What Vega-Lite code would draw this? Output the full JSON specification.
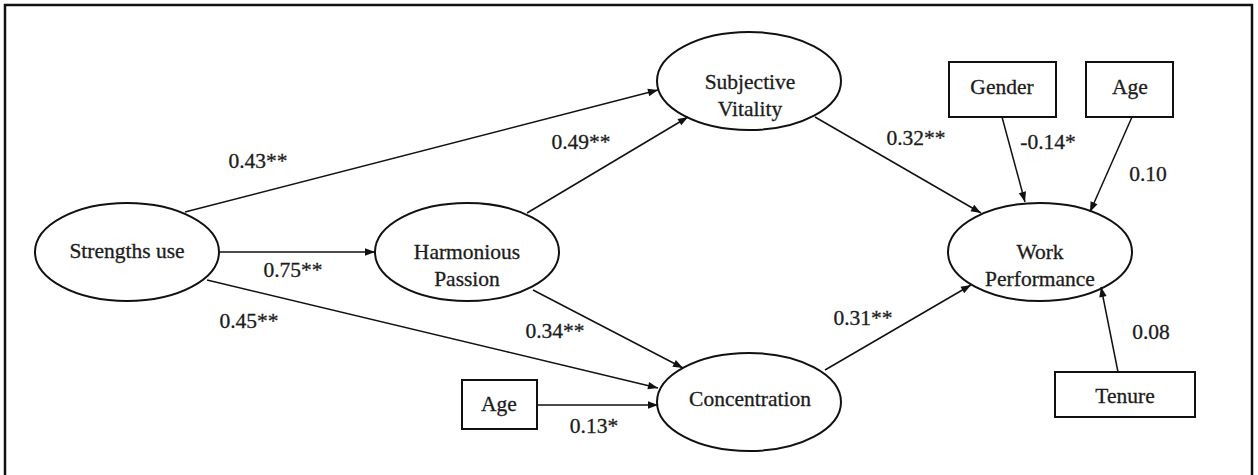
{
  "$schema": "https://vega.github.io/schema/vega-lite/v6.json",
  "width": 1258,
  "height": 475,
  "padding": 0,
  "autosize": {"type": "none"},
  "background": "white",
  "config": {"view": {"stroke": null}},
  "datasets": {
    "frame": [{"x1": 5, "y1": 5, "x2": 1252, "y2": 479}],
    "latent": [
      {"name": "Strengths use", "x": 127, "y": 252},
      {"name": "Harmonious Passion", "x": 467, "y": 252},
      {"name": "Subjective Vitality", "x": 749, "y": 81},
      {"name": "Concentration", "x": 749, "y": 402},
      {"name": "Work Performance", "x": 1040, "y": 252}
    ],
    "boxes": [
      {"name": "Age (concentration)", "x1": 462, "y1": 380, "x2": 537, "y2": 429},
      {"name": "Gender", "x1": 949, "y1": 62, "x2": 1056, "y2": 117},
      {"name": "Age (performance)", "x1": 1086, "y1": 62, "x2": 1173, "y2": 117},
      {"name": "Tenure", "x1": 1055, "y1": 372, "x2": 1195, "y2": 417}
    ],
    "paths": [
      {"from": "Strengths use", "to": "Subjective Vitality", "x1": 185, "y1": 212, "x2": 658, "y2": 90, "coef": "0.43**", "lx": 258, "ly": 162},
      {"from": "Strengths use", "to": "Harmonious Passion", "x1": 220, "y1": 252, "x2": 375, "y2": 252, "coef": "0.75**", "lx": 293, "ly": 271},
      {"from": "Strengths use", "to": "Concentration", "x1": 207, "y1": 280, "x2": 658, "y2": 388, "coef": "0.45**", "lx": 249, "ly": 322},
      {"from": "Harmonious Passion", "to": "Subjective Vitality", "x1": 527, "y1": 213, "x2": 688, "y2": 117, "coef": "0.49**", "lx": 581, "ly": 143},
      {"from": "Harmonious Passion", "to": "Concentration", "x1": 533, "y1": 290, "x2": 683, "y2": 368, "coef": "0.34**", "lx": 555, "ly": 332},
      {"from": "Age", "to": "Concentration", "x1": 537, "y1": 405, "x2": 658, "y2": 405, "coef": "0.13*", "lx": 594, "ly": 427},
      {"from": "Subjective Vitality", "to": "Work Performance", "x1": 815, "y1": 117, "x2": 981, "y2": 213, "coef": "0.32**", "lx": 916, "ly": 139},
      {"from": "Concentration", "to": "Work Performance", "x1": 825, "y1": 370, "x2": 971, "y2": 285, "coef": "0.31**", "lx": 863, "ly": 319},
      {"from": "Gender", "to": "Work Performance", "x1": 1002, "y1": 117, "x2": 1025, "y2": 202, "coef": "-0.14*", "lx": 1048, "ly": 143},
      {"from": "Age", "to": "Work Performance", "x1": 1132, "y1": 117, "x2": 1090, "y2": 212, "coef": "0.10", "lx": 1148, "ly": 175},
      {"from": "Tenure", "to": "Work Performance", "x1": 1118, "y1": 372, "x2": 1101, "y2": 287, "coef": "0.08", "lx": 1151, "ly": 333}
    ],
    "names": [
      {"t": "Strengths use", "x": 127, "y": 252},
      {"t": "Harmonious\nPassion", "x": 467, "y": 253},
      {"t": "Subjective\nVitality", "x": 750, "y": 83},
      {"t": "Concentration", "x": 750, "y": 400},
      {"t": "Work\nPerformance", "x": 1040, "y": 253},
      {"t": "Age", "x": 499, "y": 405},
      {"t": "Gender", "x": 1002, "y": 88},
      {"t": "Age", "x": 1130, "y": 88},
      {"t": "Tenure", "x": 1125, "y": 397}
    ]
  },
  "layer": [
    {
      "data": {"name": "frame"},
      "mark": {"type": "rect", "fill": null, "stroke": "#111111", "strokeWidth": 2.5},
      "encoding": {
        "x": {"field": "x1", "type": "quantitative", "scale": {"domain": [0, 1258], "nice": false, "zero": false}, "axis": null},
        "x2": {"field": "x2"},
        "y": {"field": "y1", "type": "quantitative", "scale": {"domain": [0, 475], "nice": false, "zero": false, "reverse": true}, "axis": null},
        "y2": {"field": "y2"}
      }
    },
    {
      "data": {"name": "latent"},
      "mark": {
        "type": "point",
        "shape": "M-1,0C-1,-0.2944,-0.5523,-0.533,0,-0.533C0.5523,-0.533,1,-0.2944,1,0C1,0.2944,0.5523,0.533,0,0.533C-0.5523,0.533,-1,0.2944,-1,0Z",
        "size": 33856,
        "filled": false,
        "stroke": "#111111",
        "strokeWidth": 2,
        "opacity": 1
      },
      "encoding": {
        "x": {"field": "x", "type": "quantitative", "axis": null},
        "y": {"field": "y", "type": "quantitative", "axis": null}
      }
    },
    {
      "data": {"name": "boxes"},
      "mark": {"type": "rect", "fill": null, "stroke": "#111111", "strokeWidth": 2},
      "encoding": {
        "x": {"field": "x1", "type": "quantitative", "axis": null},
        "x2": {"field": "x2"},
        "y": {"field": "y1", "type": "quantitative", "axis": null},
        "y2": {"field": "y2"}
      }
    },
    {
      "data": {"name": "paths"},
      "mark": {"type": "rule", "stroke": "#111111", "strokeWidth": 1.5},
      "encoding": {
        "x": {"field": "x1", "type": "quantitative", "axis": null},
        "x2": {"field": "x2"},
        "y": {"field": "y1", "type": "quantitative", "axis": null},
        "y2": {"field": "y2"}
      }
    },
    {
      "data": {"name": "paths"},
      "transform": [
        {"calculate": "atan2(datum.y2 - datum.y1, datum.x2 - datum.x1) * 180 / PI", "as": "dir"}
      ],
      "mark": {
        "type": "point",
        "shape": "M0,0L-2,-0.75L-2,0.75Z",
        "size": 100,
        "filled": true,
        "fill": "#111111",
        "opacity": 1
      },
      "encoding": {
        "x": {"field": "x2", "type": "quantitative", "axis": null},
        "y": {"field": "y2", "type": "quantitative", "axis": null},
        "angle": {"field": "dir", "type": "quantitative", "scale": null}
      }
    },
    {
      "data": {"name": "paths"},
      "mark": {"type": "text", "font": "Liberation Serif, Times New Roman, serif", "fontSize": 21.5, "color": "#1c1c1c", "stroke": "#1c1c1c", "strokeWidth": 0.3, "baseline": "middle", "align": "center"},
      "encoding": {
        "x": {"field": "lx", "type": "quantitative", "axis": null},
        "y": {"field": "ly", "type": "quantitative", "axis": null},
        "text": {"field": "coef"}
      }
    },
    {
      "data": {"name": "names"},
      "mark": {"type": "text", "font": "Liberation Serif, Times New Roman, serif", "fontSize": 21.5, "lineHeight": 27, "lineBreak": "\n", "color": "#1c1c1c", "stroke": "#1c1c1c", "strokeWidth": 0.3, "baseline": "middle", "align": "center"},
      "encoding": {
        "x": {"field": "x", "type": "quantitative", "axis": null},
        "y": {"field": "y", "type": "quantitative", "axis": null},
        "text": {"field": "t"}
      }
    }
  ]
}
